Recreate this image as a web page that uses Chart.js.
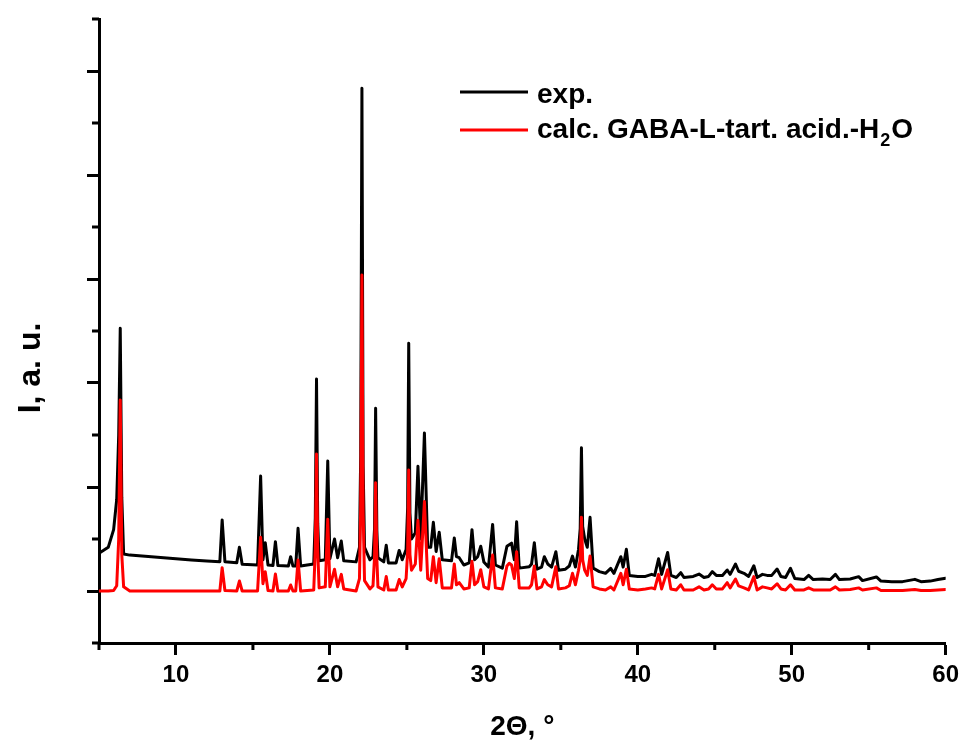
<!DOCTYPE html>
<html>
<head>
<meta charset="utf-8">
<script src="https://cdn.jsdelivr.net/npm/chart.js@4.4.0/dist/chart.umd.min.js"></script>
<style>
  html, body { margin: 0; padding: 0; background: #fff; }
  canvas { display: block; }
</style>
</head>
<body>
<canvas id="xrd" width="965" height="745"></canvas>
<script>
// 2theta positions (deg), shared by both patterns
const twoTheta = [
  5.0, 5.6, 5.95, 6.15, 6.28, 6.38, 6.48, 6.6, 7.0, 8.0, 9.0, 10.0, 11.0, 12.0,
  12.85, 13.0, 13.18, 13.95, 14.12, 14.3, 15.3, 15.5, 15.65, 15.8, 15.98,
  16.3, 16.46, 16.62, 17.3, 17.45, 17.6, 17.78, 17.93, 18.1, 18.95, 19.05, 19.13,
  19.21, 19.3, 19.7, 19.86, 20.0, 20.3, 20.5, 20.74, 20.9, 21.7, 21.92, 22.0, 22.08,
  22.16, 22.25, 22.6, 22.8, 22.9, 22.97, 23.05, 23.12, 23.5, 23.66, 23.8, 24.3, 24.5, 24.7,
  24.95, 25.05, 25.12, 25.2, 25.3, 25.55, 25.72, 25.9, 26.14, 26.35, 26.55, 26.72, 26.9,
  27.1, 27.3, 27.9, 28.08, 28.22, 28.4, 28.7, 29.05, 29.23, 29.4, 29.6,
  29.8, 30.0, 30.3, 30.57, 30.75, 31.2, 31.5, 31.65, 31.8, 31.98, 32.13,
  32.3, 32.95, 33.1, 33.28, 33.45, 33.75, 33.93, 34.15, 34.4, 34.68, 34.85,
  35.3, 35.55, 35.76, 35.95, 36.15, 36.26, 36.34, 36.42, 36.55, 36.72, 36.9, 37.1, 37.5,
  37.9, 38.24, 38.45, 38.9, 39.05, 39.26, 39.45, 40.0, 40.5, 40.9, 41.1,
  41.35, 41.55, 41.94, 42.15, 42.5, 42.79, 43.0, 43.6, 43.98, 44.3, 44.6,
  44.84, 45.1, 45.5, 45.81, 46.0, 46.35, 46.55, 46.9, 47.2, 47.54, 47.75,
  48.1, 48.4, 48.7, 49.05, 49.3, 49.6, 49.92, 50.2, 50.8, 51.1, 51.4, 52.0,
  52.5, 52.84, 53.1, 53.8, 54.35, 54.6, 55.5, 55.8, 56.5, 57.2, 58.0, 58.4,
  59.0, 59.5, 60.0
];

// experimental pattern (black), arbitrary units
const expI = [
  362, 420, 590, 880, 1500, 2526, 900, 356, 345, 333, 322, 310, 298, 288,
  282, 683, 282, 272, 420, 258, 250, 1106, 300, 465, 250,
  245, 474, 245, 240, 330, 240, 240, 603, 240, 260, 700, 2038,
  650, 290, 300, 1250, 310, 500, 320, 480, 290, 280, 420, 1300, 4833,
  1200, 420, 300, 330, 600, 1757, 580, 320, 280, 440, 270, 270, 390, 300,
  400, 800, 2382, 750, 500, 560, 1200, 500, 1520, 420, 420, 660, 380,
  565, 300, 290, 510, 330, 320, 250, 270, 590, 300, 330,
  430, 280, 230, 640, 250, 220, 430, 445, 460, 300, 666,
  220, 234, 260, 465, 210, 230, 330, 260, 230, 378, 200,
  210, 240, 336, 230, 400, 600, 1378, 620, 500, 420, 708, 220, 186,
  170, 218, 170, 330, 230, 401, 150, 140, 140, 160, 150,
  310, 160, 370, 150, 130, 176, 130, 140, 163, 130, 140,
  186, 150, 150, 202, 160, 260, 190, 170, 140, 243, 130,
  160, 150, 150, 211, 140, 130, 218, 120, 110, 150, 110, 115,
  110, 160, 110, 115, 138, 100, 135, 95, 90, 90, 112, 90,
  95, 110, 122
];

// calculated pattern (red), same units
const calcI = [
  0, 0, 5, 50, 500, 1836, 350, 40, 0, 0, 0, 0, 0, 0,
  0, 224, 5, 0, 96, 0, 0, 516, 70, 186, 5,
  0, 163, 0, 0, 58, 0, 0, 298, 0, 10, 400, 1317,
  380, 30, 40, 690, 40, 210, 40, 160, 20, 0, 120, 800, 3038,
  750, 100, 20, 50, 330, 1041, 310, 40, 10, 140, 10, 10, 110, 40,
  120, 380, 1163, 350, 200, 260, 680, 200, 860, 120, 100, 330, 80,
  310, 30, 30, 260, 60, 80, 20, 30, 285, 60, 90,
  205, 40, 20, 346, 30, 20, 240, 266, 250, 120, 378,
  30, 30, 60, 240, 20, 40, 110, 60, 40, 234, 20,
  30, 50, 170, 60, 200, 300, 710, 300, 200, 150, 336, 40, 20,
  10, 40, 10, 170, 60, 210, 20, 10, 20, 30, 20,
  160, 20, 205, 20, 10, 60, 10, 10, 40, 10, 20,
  60, 20, 20, 80, 30, 115, 50, 30, 10, 138, 10,
  40, 30, 20, 70, 20, 10, 60, 10, 10, 30, 10, 10,
  10, 40, 10, 15, 30, 10, 30, 5, 5, 5, 15, 5,
  5, 10, 15
];

const xLabels = [10, 20, 30, 40, 50, 60];
const yMajorStep = 1000;

const FONT = '"Liberation Sans", Arial, Helvetica, sans-serif';

function toPoints(ys) {
  return twoTheta.map((t, i) => ({ x: t, y: ys[i] }));
}

// short minor ticks (Chart.js has a single tick length per axis)
const minorTicks = {
  id: 'minorTicks',
  afterDraw(chart) {
    const ctx = chart.ctx;
    const xs = chart.scales.x, ys = chart.scales.y;
    ctx.save();
    ctx.strokeStyle = '#000';
    ctx.lineWidth = 3;
    ctx.beginPath();
    xs.ticks.forEach(t => {
      if (xLabels.includes(t.value)) return;
      const px = xs.getPixelForValue(t.value);
      ctx.moveTo(px, xs.top);
      ctx.lineTo(px, xs.top + 7);
    });
    ys.ticks.forEach(t => {
      if (t.value % yMajorStep === 0) return;
      const py = ys.getPixelForValue(t.value);
      ctx.moveTo(ys.right, py);
      ctx.lineTo(ys.right - 7, py);
    });
    ctx.stroke();
    ctx.restore();
  }
};

// y title sits lower than the axis centre in the original
const yTitle = {
  id: 'yTitle',
  afterDraw(chart) {
    const ctx = chart.ctx;
    ctx.save();
    ctx.translate(31, 368);
    ctx.rotate(-Math.PI / 2);
    ctx.fillStyle = '#000';
    ctx.font = 'bold 32px ' + FONT;
    ctx.textAlign = 'center';
    ctx.textBaseline = 'middle';
    ctx.fillText('I, a. u.', 0, 0);
    ctx.restore();
  }
};

// legend in the upper right, with a real subscript for H2O
const cornerLegend = {
  id: 'cornerLegend',
  afterDraw(chart) {
    const ctx = chart.ctx;
    const rows = [{ line: 92, base: 103 }, { line: 130, base: 138 }];
    ctx.save();
    chart.data.datasets.forEach((ds, i) => {
      const r = rows[i];
      ctx.strokeStyle = ds.borderColor;
      ctx.lineWidth = 3;
      ctx.beginPath();
      ctx.moveTo(460, r.line);
      ctx.lineTo(528, r.line);
      ctx.stroke();

      ctx.fillStyle = '#000';
      ctx.textBaseline = 'alphabetic';
      ctx.textAlign = 'left';
      const parts = ds.label.split('\u2082');
      let x = 537;
      parts.forEach((p, k) => {
        ctx.font = 'bold 28px ' + FONT;
        ctx.fillText(p, x, r.base);
        x += ctx.measureText(p).width;
        if (k < parts.length - 1) {
          ctx.font = 'bold 18px ' + FONT;
          ctx.fillText('2', x + 1, r.base + 8);
          x += ctx.measureText('2').width + 2;
        }
      });
    });
    ctx.restore();
  }
};

new Chart(document.getElementById('xrd'), {
  type: 'line',
  data: {
    datasets: [{
      label: 'exp.',
      data: toPoints(expI),
      borderColor: '#000000',
      borderWidth: 3,
      order: 2
    }, {
      label: 'calc. GABA-L-tart. acid.-H\u2082O',
      data: toPoints(calcI),
      borderColor: '#ff0000',
      borderWidth: 3,
      order: 1
    }]
  },
  options: {
    responsive: false,
    animation: false,
    parsing: false,
    layout: { padding: { top: 19, right: 18, left: 0, bottom: 0 } },
    elements: {
      point: { radius: 0 },
      line: { tension: 0, borderJoinStyle: 'round', borderCapStyle: 'round' }
    },
    plugins: {
      legend: { display: false },
      tooltip: { enabled: false }
    },
    scales: {
      x: {
        type: 'linear',
        min: 5,
        max: 60,
        afterFit: s => { s.height = 102; },
        border: { color: '#000', width: 3 },
        grid: {
          drawOnChartArea: false,
          tickLength: 12,
          tickWidth: 3,
          tickColor: c => xLabels.includes(c.tick.value) ? '#000' : 'rgba(0,0,0,0)'
        },
        ticks: {
          stepSize: 5,
          autoSkip: false,
          maxRotation: 0,
          padding: 6,
          color: '#000',
          font: { family: FONT, size: 24, weight: 'bold' },
          callback: v => xLabels.includes(v) ? String(v) : ''
        },
        title: {
          display: true,
          text: '2\u0398, \u00b0',
          color: '#000',
          font: { family: FONT, size: 28, weight: 'bold' },
          padding: { top: 0, bottom: 1 }
        }
      },
      y: {
        min: -500,
        max: 5500,
        afterFit: s => { s.width = 99; },
        border: { color: '#000', width: 3 },
        grid: {
          drawOnChartArea: false,
          tickLength: 12,
          tickWidth: 3,
          tickColor: c => c.tick.value % yMajorStep === 0 ? '#000' : 'rgba(0,0,0,0)'
        },
        ticks: {
          stepSize: 500,
          autoSkip: false,
          callback: () => ''
        }
      }
    }
  },
  plugins: [minorTicks, yTitle, cornerLegend]
});
</script>
</body>
</html>
